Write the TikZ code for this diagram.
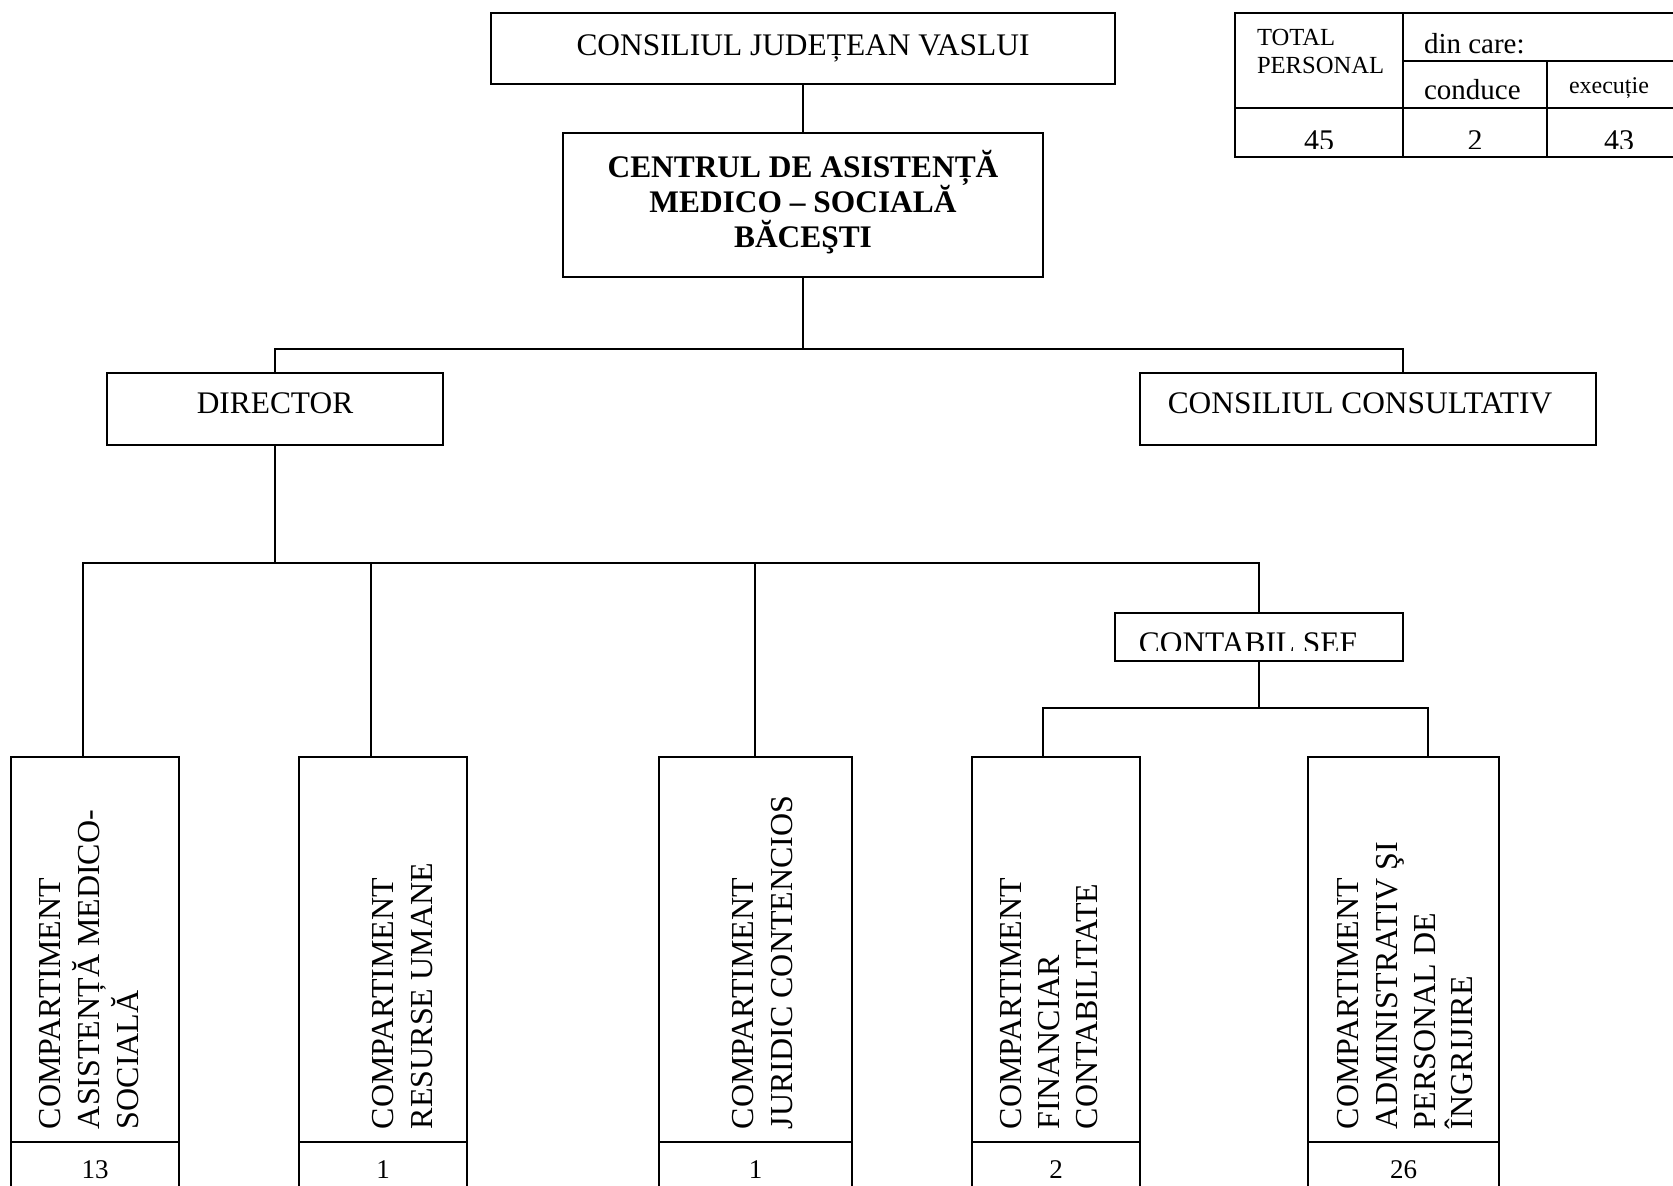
\documentclass[tikz,border=0pt]{standalone}
\usepackage{fontspec}
\setmainfont{Liberation Serif}
\usetikzlibrary{fit}
\begin{document}
\begin{tikzpicture}[x=0.5pt,y=-0.5pt,line width=1pt,
  box/.style={draw,line width=1pt,inner sep=0pt},
  lbl/.style={inner sep=0pt,anchor=base,font=\fontsize{15.7}{18}\selectfont},
  blbl/.style={inner sep=0pt,anchor=base,font=\fontsize{15.7}{18}\selectfont\bfseries},
  vlbl/.style={inner sep=0pt,rotate=90,anchor=base west,font=\fontsize{16}{19}\selectfont},
  num/.style={inner sep=0pt,anchor=base,font=\fontsize{13.5}{16}\selectfont},
  tsmall/.style={inner sep=0pt,anchor=base west,font=\fontsize{12.3}{14}\selectfont},
  tmid/.style={inner sep=0pt,anchor=base west,font=\fontsize{14.5}{17}\selectfont},
  tnum/.style={inner sep=0pt,anchor=base,font=\fontsize{15}{17}\selectfont}]
\useasboundingbox (0,0) rectangle (1673,1185);
\clip (0,0) rectangle (1673,1185);

% ---------- boxes ----------
\node[box,fit={(491,13) (1115,84)}] (cj) {};
\node[box,fit={(563,133) (1043,277)}] (centru) {};
\node[box,fit={(107,373) (443,445)}] (dir) {};
\node[box,fit={(1140,373) (1596,445)}] (cc) {};
\node[box,fit={(1115,613) (1403,661)}] (cs) {};
\node[box,fit={(11,757) (179,1220)}] (c1) {};
\node[box,fit={(299,757) (467,1220)}] (c2) {};
\node[box,fit={(659,757) (852,1220)}] (c3) {};
\node[box,fit={(972,757) (1140,1220)}] (c4) {};
\node[box,fit={(1308,757) (1499,1220)}] (c5) {};
\draw (11,1142) -- (179,1142);
\draw (299,1142) -- (467,1142);
\draw (659,1142) -- (852,1142);
\draw (972,1142) -- (1140,1142);
\draw (1308,1142) -- (1499,1142);

% ---------- labels ----------
\node[lbl] (tcj) at (803,55.5) {CONSILIUL JUDEȚEAN VASLUI};
\node[blbl] (tce1) at (803,177) {CENTRUL DE ASISTENȚĂ};
\node[blbl] (tce2) at (803,212) {MEDICO – SOCIALĂ};
\node[blbl] (tce3) at (803,247) {BĂCEŞTI};
\node[lbl] (tdir) at (275,413) {DIRECTOR};
\node[lbl] (tcc) at (1360,413) {CONSILIUL CONSULTATIV};
\begin{scope}
  \clip (1116,614) rectangle (1402,650);
  \node[lbl] (tcs) at (1248,653) {CONTABIL SEF};
\end{scope}

\node[vlbl] (v1a) at (60,1130) {COMPARTIMENT};
\node[vlbl] (v1b) at (99,1130) {ASISTENȚĂ MEDICO-};
\node[vlbl] (v1c) at (138,1130) {SOCIALĂ};
\node[vlbl] (v2a) at (393,1130) {COMPARTIMENT};
\node[vlbl] (v2b) at (432,1130) {RESURSE UMANE};
\node[vlbl] (v3a) at (753,1130) {COMPARTIMENT};
\node[vlbl] (v3b) at (792,1130) {JURIDIC CONTENCIOS};
\node[vlbl] (v4a) at (1021,1130) {COMPARTIMENT};
\node[vlbl] (v4b) at (1059,1130) {FINANCIAR};
\node[vlbl] (v4c) at (1097,1130) {CONTABILITATE};
\node[vlbl] (v5a) at (1358,1130) {COMPARTIMENT};
\node[vlbl] (v5b) at (1397,1130) {ADMINISTRATIV ŞI};
\node[vlbl] (v5c) at (1435,1130) {PERSONAL DE};
\node[vlbl] (v5d) at (1472,1130) {ÎNGRIJIRE};

\node[num] (n1) at (95,1178) {13};
\node[num] (n2) at (383,1178) {1};
\node[num] (n3) at (755.5,1178) {1};
\node[num] (n4) at (1056,1178) {2};
\node[num] (n5) at (1403.5,1178) {26};

% ---------- connectors ----------
\coordinate (jA) at (803,349);
\coordinate (jB) at (275,563);
\coordinate (jC) at (1259,708);
\coordinate (ccin) at (1403,373);
\coordinate (d1) at (83,757);
\coordinate (d2) at (371,757);
\coordinate (d3) at (755,757);
\coordinate (d4) at (1043,757);
\coordinate (d5) at (1428,757);
\draw (cj.south) -- (centru.north);
\draw (centru.south) -- (jA);
\draw (dir.north) |- (jA);
\draw (jA) -| (ccin);
\draw (dir.south) -- (jB);
\draw (d1) |- (jB);
\draw (jB) -| (d2);
\draw (jB) -| (d3);
\draw (jB) -| (cs.north);
\draw (cs.south) -- (jC);
\draw (d4) |- (jC);
\draw (jC) -| (d5);

% ---------- staff table ----------
\draw (1720,13) -- (1235,13) -- (1235,157) -- (1720,157);
\draw (1235,108) -- (1720,108);
\draw (1403,13) -- (1403,157);
\draw (1403,61) -- (1720,61);
\draw (1547,61) -- (1547,157);
\node[tsmall] (tt1) at (1256,45) {TOTAL};
\node[tsmall] (tt2) at (1256,73) {PERSONAL};
\node[tmid] (tdin) at (1423,53) {din care:};
\node[tmid] (tcon) at (1423,99) {conduce};
\node[tsmall,font=\fontsize{12}{14}\selectfont] (texe) at (1568,93) {execuție};
\begin{scope}
  \clip (1236,109) rectangle (1700,148);
  \node[tnum] (t45) at (1319,150) {45};
  \node[tnum] (t2) at (1475,150) {2};
  \node[tnum] (t43) at (1619,150) {43};
\end{scope}
\end{tikzpicture}
\end{document}
